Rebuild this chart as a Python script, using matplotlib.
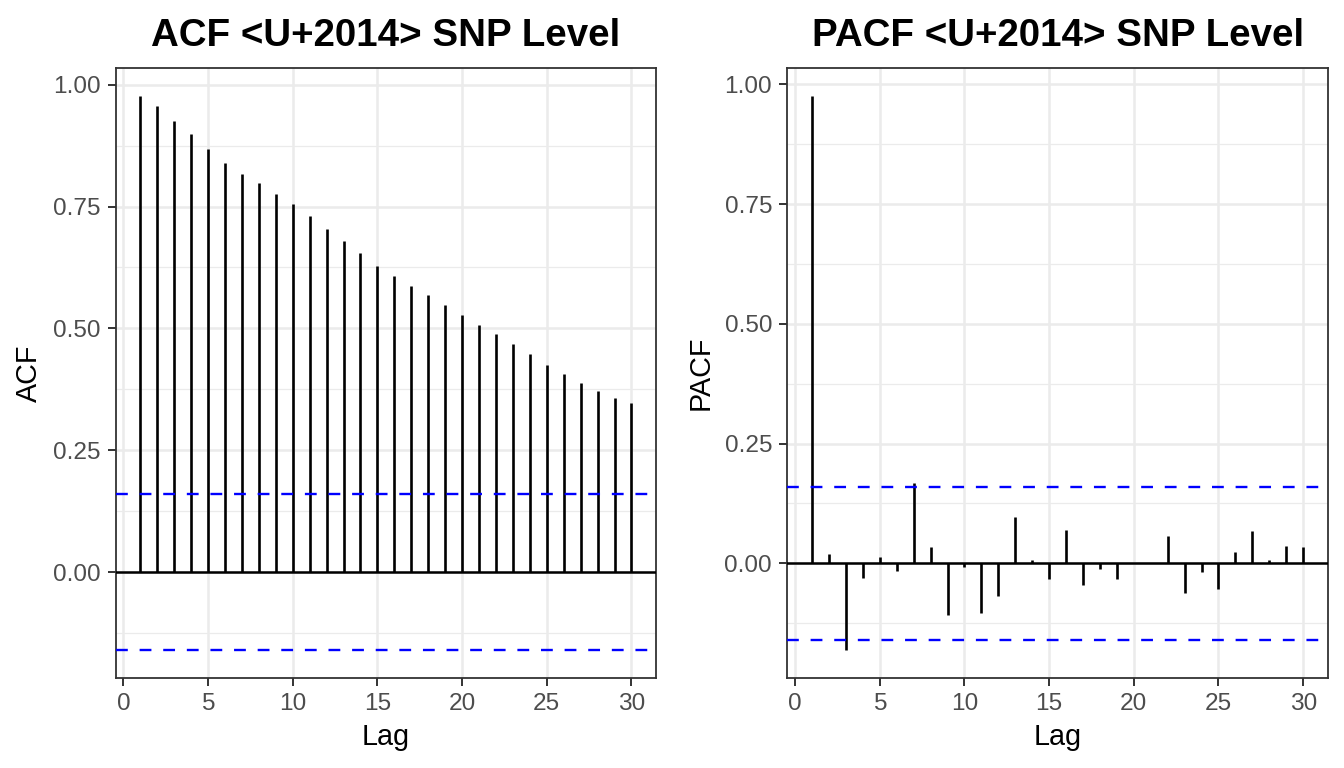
import matplotlib
matplotlib.use("Agg")
import matplotlib.pyplot as plt
import numpy as np

# ACF / PACF of SNP level
lags = list(range(1, 31))
acf_vals = [0.977, 0.956, 0.926, 0.898, 0.868, 0.839, 0.817, 0.798, 0.776, 0.756,
            0.731, 0.705, 0.680, 0.654, 0.629, 0.608, 0.587, 0.569, 0.547, 0.527,
            0.507, 0.488, 0.468, 0.447, 0.425, 0.406, 0.388, 0.372, 0.358, 0.347]
pacf_vals = [0.976, 0.020, -0.181, -0.030, 0.013, -0.017, 0.168, 0.035, -0.107, -0.008,
             -0.103, -0.069, 0.097, 0.007, -0.032, 0.070, -0.045, -0.011, -0.032, 0.001,
             0.001, 0.058, -0.062, -0.019, -0.054, 0.023, 0.067, 0.006, 0.037, 0.035]
conf_limit = 0.16

titles = ["ACF <U+2014> SNP Level", "PACF <U+2014> SNP Level"]
ylabels = ["ACF", "PACF"]
x_ticks = [0, 5, 10, 15, 20, 25, 30]
y_ticks = [0.0, 0.25, 0.5, 0.75, 1.0]
y_minor = [-0.125, 0.125, 0.375, 0.625, 0.875]

plt.rcParams['font.family'] = ['Liberation Sans', 'DejaVu Sans']

fig = plt.figure(figsize=(13.44, 7.68), dpi=100)
positions = [[0.0861, 0.1176, 0.402, 0.7935],
             [0.5859, 0.1176, 0.402, 0.7935]]

for pos, vals, title, ylab in zip(positions, [acf_vals, pacf_vals], titles, ylabels):
    ax = fig.add_axes(pos)
    lo = min(min(vals), -conf_limit)
    hi = max(max(vals), conf_limit)
    span = hi - lo
    ax.set_ylim(lo - 0.05 * span, hi + 0.05 * span)
    ax.set_xlim(1 - 0.05 * 29, 30 + 0.05 * 29)

    # grid
    for yv in y_minor:
        ax.axhline(yv, color='#EBEBEB', lw=0.9, zorder=0)
    for yv in y_ticks:
        ax.axhline(yv, color='#EBEBEB', lw=1.8, zorder=0)
    for xv in x_ticks:
        ax.axvline(xv, color='#EBEBEB', lw=1.8, zorder=0)

    ax.vlines(lags, 0, vals, color='black', lw=1.9, zorder=2)
    ax.axhline(0, color='black', lw=1.8, zorder=3)
    ax.axhline(conf_limit, color='blue', lw=1.7, ls=(0, (5, 5)), zorder=3)
    ax.axhline(-conf_limit, color='blue', lw=1.7, ls=(0, (5, 5)), zorder=3)

    ax.set_xticks(x_ticks)
    ax.set_yticks(y_ticks)
    ax.set_yticklabels(["0.00", "0.25", "0.50", "0.75", "1.00"])
    ax.tick_params(length=5.6, width=1.4, color='#333333', labelcolor='#4D4D4D',
                   labelsize=17.6)
    ax.tick_params(axis='x', pad=5.5)
    ax.tick_params(axis='y', pad=5.5)
    for sp in ax.spines.values():
        sp.set_color('#333333')
        sp.set_linewidth(1.3)

    ax.set_xlabel("Lag", fontsize=20.7, labelpad=5.5)
    ax.set_ylabel(ylab, fontsize=20.7, labelpad=7)
    ax.set_title(title, fontsize=27.7, fontweight='bold', pad=16)

fig.savefig("out.png", dpi=100)
